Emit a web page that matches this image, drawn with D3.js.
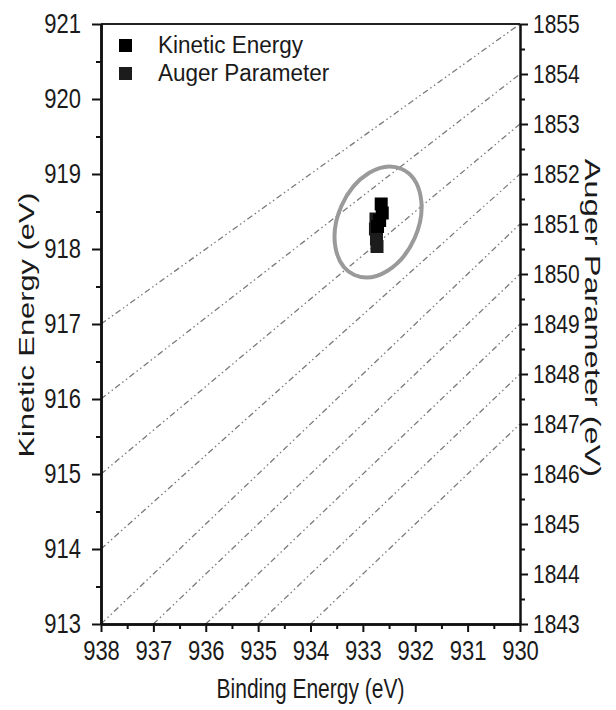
<!DOCTYPE html>
<html>
<head>
<meta charset="utf-8">
<script src="https://cdn.jsdelivr.net/npm/d3@7/dist/d3.min.js"></script>
<style>
  body { margin: 0; background: #fff; }
  text { font-family: "Liberation Sans", Arial, sans-serif; fill: #1a1a1a; }
</style>
</head>
<body>
<div id="chart"></div>
<script>
// measured points (binding energy vs kinetic energy / auger parameter)
var keBE = [932.65, 932.63, 932.68, 932.72];
var keVal = [918.60, 918.48, 918.38, 918.30];
var apBE = [932.75, 932.76, 932.74, 932.73];
var apVal = [1851.10, 1850.90, 1850.70, 1850.55];

// reference lines: start on left/bottom axis, end on the right (AP) axis
var lineStartBE = [938, 938, 938, 938, 938, 937, 936, 935, 934];
var lineStartKE = [917, 916, 915, 914, 913, 913, 913, 913, 913];
var lineEndAP = [1855, 1854, 1853, 1852, 1851, 1850, 1849, 1848, 1847];

// circled region
var ringBE = [932.71];
var ringKE = [918.36];

var xTicks = [938, 937, 936, 935, 934, 933, 932, 931, 930];
var yTicks = [913, 914, 915, 916, 917, 918, 919, 920, 921];
var apTicks = [1843, 1844, 1845, 1846, 1847, 1848, 1849, 1850, 1851, 1852, 1853, 1854, 1855];

var seriesNames = ["Kinetic Energy", "Auger Parameter"];

var W = 616, H = 710;
var pLeft = 101, pRight = 520, pTop = 24, pBottom = 624;

var svg = d3.select("#chart").append("svg")
    .attr("width", W)
    .attr("height", H);

var x = d3.scaleLinear().domain([938, 930]).range([pLeft, pRight]);
var y = d3.scaleLinear().domain([913, 921]).range([pBottom, pTop]);
var yR = d3.scaleLinear().domain([1843, 1855]).range([pBottom, pTop]);

function halves(t) {
  var out = [];
  for (var i = 0; i < t.length - 1; i++) out.push((t[i] + t[i + 1]) / 2);
  return out;
}

// dash-dot-dot guide lines
svg.append("g").selectAll("line")
    .data(lineEndAP)
    .enter().append("line")
    .attr("x1", function(d, i) { return x(lineStartBE[i]); })
    .attr("y1", function(d, i) { return y(lineStartKE[i]); })
    .attr("x2", x(930))
    .attr("y2", function(d) { return yR(d); })
    .attr("stroke", "#7a7a7a")
    .attr("stroke-width", 1.3)
    .attr("stroke-dasharray", "6,3,1.5,3,1.5,3");

// top frame line
svg.append("line")
    .attr("x1", pLeft).attr("x2", pRight)
    .attr("y1", pTop).attr("y2", pTop)
    .attr("stroke", "#222").attr("stroke-width", 2);

// the source figure is stretched vertically, so text glyphs are tall
function styleAxis(g, w, fs) {
  g.selectAll(".domain").attr("stroke", "#111").attr("stroke-width", w);
  g.selectAll(".tick line").attr("stroke", "#111").attr("stroke-width", 2);
  g.selectAll("text").style("font-size", fs + "px").attr("fill", "#1a1a1a");
}

// bottom axis
var gx = svg.append("g").attr("transform", "translate(0," + pBottom + ")");
gx.call(d3.axisBottom(x).tickValues(halves(xTicks)).tickSize(5).tickSizeOuter(0).tickFormat(""));
gx.append("g").call(d3.axisBottom(x).tickValues(xTicks).tickSize(8).tickSizeOuter(0).tickPadding(5).tickFormat(d3.format("d")));
styleAxis(gx, 2.5, 22);
gx.selectAll("text").attr("transform", "scale(1,1.25)");

// left axis
var gy = svg.append("g").attr("transform", "translate(" + pLeft + ",0)");
gy.call(d3.axisLeft(y).tickValues(halves(yTicks)).tickSize(5).tickSizeOuter(0).tickFormat(""));
gy.append("g").call(d3.axisLeft(y).tickValues(yTicks).tickSize(9).tickSizeOuter(0).tickPadding(11).tickFormat(d3.format("d")));
styleAxis(gy, 2.5, 22);
gy.selectAll("text").attr("transform", "scale(1,1.25)");

// right axis
var gr = svg.append("g").attr("transform", "translate(" + pRight + ",0)");
gr.call(d3.axisRight(yR).tickValues(halves(apTicks)).tickSize(5).tickSizeOuter(0).tickFormat(""));
gr.append("g").call(d3.axisRight(yR).tickValues(apTicks).tickSize(8).tickSizeOuter(0).tickPadding(5).tickFormat(d3.format("d")));
styleAxis(gr, 2, 21);
gr.selectAll("text").attr("transform", "scale(1,1.25)");

// ellipse around the cluster
svg.append("g").selectAll("ellipse")
    .data(ringBE)
    .enter().append("ellipse")
    .attr("transform", function(d, i) {
      return "translate(" + x(d) + "," + y(ringKE[i]) + ") rotate(-66)";
    })
    .attr("rx", 58)
    .attr("ry", 40)
    .attr("fill", "none")
    .attr("stroke", "#9a9a9a")
    .attr("stroke-width", 4);

var sq = 13;

svg.append("g").selectAll("rect")
    .data(apVal)
    .enter().append("rect")
    .attr("x", function(d, i) { return x(apBE[i]) - sq / 2; })
    .attr("y", function(d) { return yR(d) - sq / 2; })
    .attr("width", sq).attr("height", sq)
    .attr("fill", "#1c1c1c");

svg.append("g").selectAll("rect")
    .data(keVal)
    .enter().append("rect")
    .attr("x", function(d, i) { return x(keBE[i]) - sq / 2; })
    .attr("y", function(d) { return y(d) - sq / 2; })
    .attr("width", sq).attr("height", sq)
    .attr("fill", "#000");

// legend
var legend = svg.append("g").attr("transform", "translate(119,35)");
var lg = legend.selectAll("g")
    .data(seriesNames)
    .enter().append("g")
    .attr("transform", function(d, i) { return "translate(0," + i * 28 + ")"; });
lg.append("rect")
    .attr("width", 13).attr("height", 13)
    .attr("y", 4)
    .attr("fill", function(d, i) { return i === 0 ? "#000" : "#1c1c1c"; });
lg.append("text")
    .attr("x", 39).attr("y", 17)
    .attr("transform", "scale(1,1.05)")
    .style("font-size", "22.5px")
    .text(function(d) { return d; });

// axis titles
svg.append("text")
    .attr("transform", "translate(" + (pLeft + pRight) / 2 + ",698) scale(1,1.3)")
    .attr("text-anchor", "middle")
    .style("font-size", "21px")
    .text("Binding Energy (eV)");

svg.append("text")
    .attr("transform", "translate(34,325) rotate(-90) scale(1.4,1)")
    .attr("text-anchor", "middle")
    .style("font-size", "22px")
    .text("Kinetic Energy (eV)");

svg.append("text")
    .attr("transform", "translate(585,318) rotate(90) scale(1.48,1)")
    .attr("text-anchor", "middle")
    .style("font-size", "22px")
    .text("Auger Parameter (eV)");
</script>
</body>
</html>
